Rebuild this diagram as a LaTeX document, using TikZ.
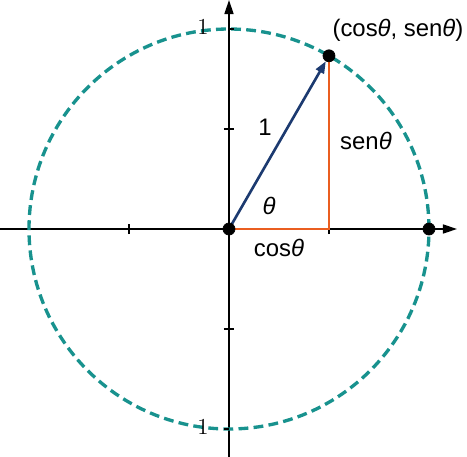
\documentclass[tikz,border=0pt]{standalone}
\usepackage{fontspec}
\newfontfamily\labelfont{Liberation Sans}
\usetikzlibrary{arrows.meta}
\definecolor{circleteal}{RGB}{24,146,142}
\definecolor{vecblue}{RGB}{28,58,112}
\definecolor{legorange}{RGB}{234,94,32}
\newcommand\Radius{4}
\tikzset{
  dot/.style={
    inner sep = 0pt,
    minimum size = 0.24cm,
    shape = circle,
    draw,
    fill
  },
  axis/.style={
    line width = 0.85pt,
    -{Triangle[length=2.8mm,width=1.8mm]}
  },
  unitcircle/.style={
    draw = circleteal,
    line width = 1.9pt,
    dash pattern = on 5.6pt off 3pt
  },
  leg/.style={
    draw = legorange,
    line width = 1.7pt
  },
  radius vec/.style={
    draw = vecblue,
    line width = 1.5pt,
    -{Triangle[length=2.4mm,width=1.8mm]}
  },
  lbl/.style={
    font = \labelfont\fontsize{13.6}{16}\selectfont,
    inner sep = 1pt
  },
  ticklbl/.style={
    font = \fontsize{13}{15}\selectfont,
    inner sep = 1pt
  }
}

\begin{document}
\begin{tikzpicture}
    \useasboundingbox (-4.58,-4.56) rectangle (4.76,4.58);
    % axes
    \coordinate (W) at (-4.58,0);
    \coordinate (E) at (4.56,0);
    \coordinate (S) at (0,-4.56);
    \coordinate (N) at (0,4.58);
    \draw[axis] (W) -- (E);
    \draw[axis] (S) -- (N);
    \foreach \t in {-2,2} {
        \draw[line width=0.85pt] (\t,-0.1) -- (\t,0.1);
        \draw[line width=0.85pt] (-0.1,\t) -- (0.1,\t);
    }

    % unit circle
    \draw[unitcircle] (0,0) circle (\Radius);
    \draw[line width=0.85pt] (0,\Radius) --++ (0.1,0);
    \draw[line width=0.85pt] (0,-\Radius) --++ (-0.1,0);
    \node[ticklbl] (top) at (-0.52,4.04) {1};
    \node[ticklbl] (bottom) at (-0.52,-3.96) {1};

    % triangle and radius
    \coordinate (O) at (0,0);
    \coordinate (P) at (60:\Radius);
    \coordinate (C) at (2,0);
    \coordinate (A) at (\Radius,0);
    \draw[leg] (O) -- (C) -- (P);
    \node[dot] (Pd) at (P) {};
    \draw[radius vec] (O) -- (Pd);
    \node[dot] (Od) at (O) {};
    \node[dot] (Ad) at (A) {};

    % labels
    \node[lbl] (pt) at (3.38,3.98) {(cos\textit{θ}, sen\textit{θ})};
    \node[lbl] (one) at (0.72,2.04) {1};
    \node[lbl] (sin) at (2.74,1.76) {sen\textit{θ}};
    \node[lbl] (ang) at (0.8,0.46) {\textit{θ}};
    \node[lbl] (cos) at (1.0,-0.38) {cos\textit{θ}};
\end{tikzpicture}
\end{document}
